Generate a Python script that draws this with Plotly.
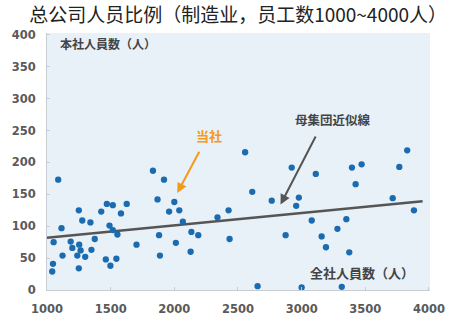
import plotly.graph_objects as go

# Scatter data: 全社人員数 (x) vs 本社人員数 (y)
total_staff = [1088, 1052, 1114, 1250, 1277, 1341, 1426, 1470, 1517, 1626,
               1581, 1491, 1517, 1553, 1375, 1186, 1199, 1253, 1264, 1349,
               1122, 1238, 1300, 1703, 1047, 1041, 1250, 1462, 1498, 1545,
               1832, 1919, 1868, 2000, 1959, 2039, 2067, 1880, 2012, 1887,
               2134, 2188, 2128, 2339, 2426, 2434, 2556, 2612, 2765, 2922,
               2978, 2957, 2874, 3111, 3079, 3157, 3191, 2654, 3000, 3395,
               3471, 3424, 3281, 3351, 3374, 3315, 3829, 3767, 3715, 3882]
hq_staff = [173, 75, 97, 125, 109, 106, 123, 135, 133, 135,
            120, 101, 94, 87, 80, 76, 66, 71, 62, 63,
            54, 54, 52, 71, 41, 29, 34, 48, 38, 49,
            187, 173, 142, 138, 123, 125, 107, 86, 74, 54,
            91, 86, 60, 114, 125, 80, 216, 154, 140, 192,
            145, 132, 86, 182, 109, 84, 67, 6, 4, 192,
            197, 166, 96, 111, 59, 5, 219, 193, 144, 125]

# Population approximation line (母集団近似線)
trend_x = [1000, 3950]
trend_y = [82, 139]

x_ticks = [1000, 1500, 2000, 2500, 3000, 3500, 4000]
y_ticks = [0, 50, 100, 150, 200, 250, 300, 350, 400]

TITLE = "总公司人员比例（制造业，员工数1000~4000人）"

fig = go.Figure()
fig.add_trace(go.Scatter(
    x=trend_x, y=trend_y, mode="lines",
    line=dict(color="#555555", width=2.5), hoverinfo="skip", showlegend=False))
fig.add_trace(go.Scatter(
    x=total_staff, y=hq_staff, mode="markers",
    marker=dict(color="#1a6bb0", size=6.3, line=dict(width=0)),
    showlegend=False))

tick_font = dict(family="DejaVu Sans", size=11.5, color="#5a5a5a", weight="bold")
jp = "Noto Sans CJK JP"

fig.update_layout(
    width=457, height=330,
    margin=dict(l=46, r=23, t=33, b=40),
    paper_bgcolor="white",
    plot_bgcolor="#e8f0f8",
    title=dict(text=TITLE, x=0.521, xanchor="center", y=1 - 15 / 330,
               yanchor="middle", xref="container", yref="container",
               font=dict(family="Noto Sans CJK SC", size=19, color="#222222")),
    xaxis=dict(range=[1000, 4008], tickvals=x_ticks, showgrid=False, zeroline=False,
               showline=True, linecolor="#c9cdd2", linewidth=1,
               ticks="inside", ticklen=3, tickcolor="#c9cdd2",
               tickfont=tick_font, ticklabelstandoff=8),
    yaxis=dict(range=[0, 403], tickvals=y_ticks, showgrid=False, zeroline=False,
               showline=True, linecolor="#c9cdd2", linewidth=1,
               ticks="inside", ticklen=3, tickcolor="#c9cdd2",
               tickfont=tick_font, ticklabelstandoff=8),
    annotations=[
        dict(x=1085, y=387, text="本社人員数（人）", showarrow=False,
             xanchor="left", yanchor="middle",
             font=dict(family=jp, size=12, color="#444444", weight="bold")),
        dict(x=3899, y=28, text="全社人員数（人）", showarrow=False,
             xanchor="right", yanchor="middle",
             font=dict(family=jp, size=13, color="#444444", weight="bold")),
        dict(x=3248, y=268, text="母集団近似線", showarrow=False,
             xanchor="center", yanchor="middle",
             font=dict(family=jp, size=12.5, color="#444444", weight="bold")),
        dict(x=2271, y=243, text="当社", showarrow=False,
             xanchor="center", yanchor="middle",
             font=dict(family=jp, size=13, color="#f39a1e", weight="bold")),
        dict(x=2023, y=152, ax=2202, ay=219, axref="x", ayref="y",
             xref="x", yref="y", text="", showarrow=True,
             arrowhead=2, arrowsize=1, arrowwidth=2, arrowcolor="#f39a1e"),
        dict(x=2834, y=134, ax=3116, ay=243, axref="x", ayref="y",
             xref="x", yref="y", text="", showarrow=True,
             arrowhead=2, arrowsize=1, arrowwidth=2, arrowcolor="#555555"),
    ],
)

fig.write_html("out.html")
